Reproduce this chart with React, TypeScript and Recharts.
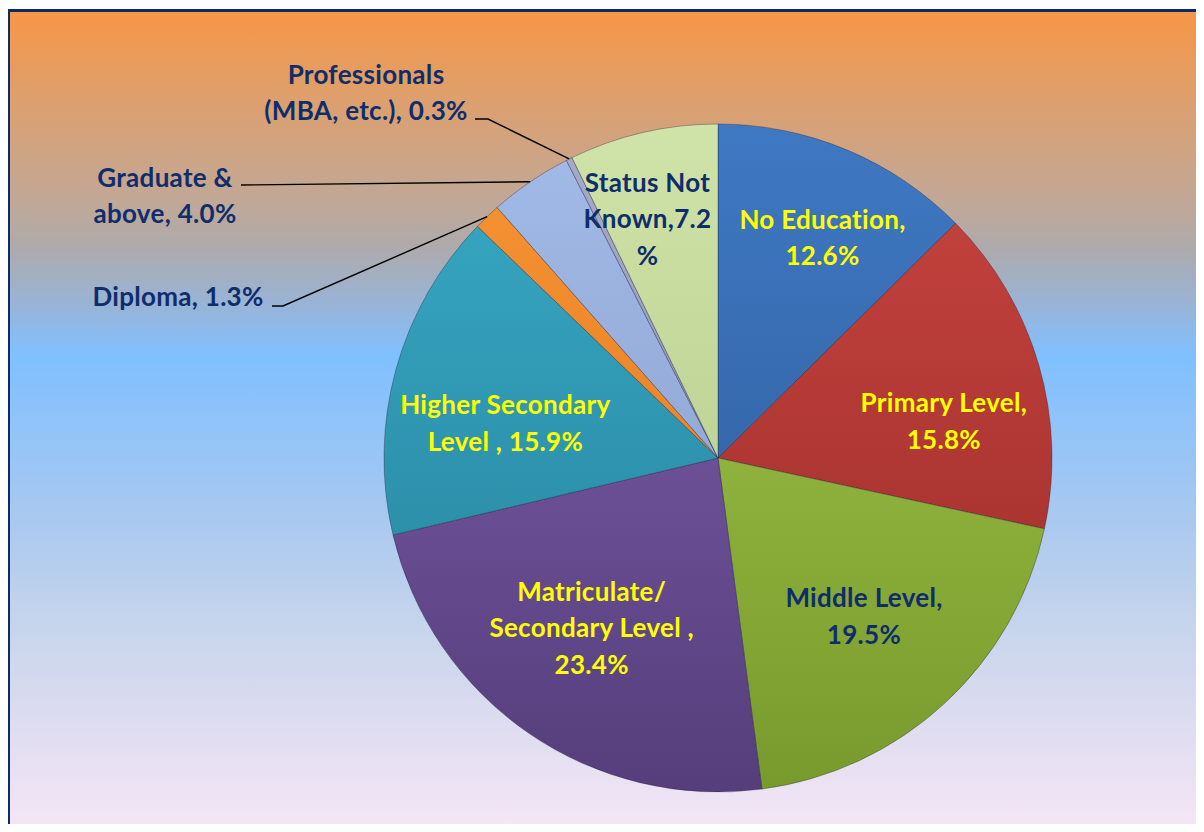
import React from 'react';
import { PieChart, Pie, Cell } from 'recharts';

// education levels, share of population in %
const categories = [
  'No Education',
  'Primary Level',
  'Middle Level',
  'Matriculate/ Secondary Level',
  'Higher Secondary Level',
  'Diploma',
  'Graduate & above',
  'Professionals (MBA, etc.)',
  'Status Not Known',
];
const shares = [12.6, 15.8, 19.5, 23.4, 15.9, 1.3, 4.0, 0.3, 7.2];

// label text as printed on the chart, {v} is the value
const labelLines = [
  ['No Education,', '{v}%'],
  ['Primary Level,', '{v}%'],
  ['Middle Level,', '{v}%'],
  ['Matriculate/', 'Secondary Level ,', '{v}%'],
  ['Higher Secondary', 'Level , {v}%'],
  ['Diploma, {v}%'],
  ['Graduate &', 'above, {v}%'],
  ['Professionals', '(MBA, etc.), {v}%'],
  ['Status Not', 'Known,{v}', '%'],
];

const data = categories.map((name, i) => ({ name, value: shares[i] }));

const sliceTop = ['#3f79c3', '#c8443f', '#a4ca4b', '#8262b2', '#38aac6', '#f79433', '#a3bbe8', '#a6aacb', '#d0e3a8'];
const sliceBottom = ['#2b5794', '#982b29', '#789a2d', '#553e7b', '#257f98', '#de761e', '#8599c8', '#8a8fb0', '#aec585'];

const NAVY = '#0f2d6b';
const YELLOW = '#ffff00';
const FONT = "Lato, 'Open Sans', sans-serif";
const FONT_SIZE = 26;
const LINE_H = 36.5;
const RAD = Math.PI / 180;

const CX = 718;
const CY = 458;
const R = 334;

const insideLabels: Record<string, { r: number; da: number; color: string }> = {
  'No Education': { r: 0.73, da: -2.7, color: YELLOW },
  'Primary Level': { r: 0.685, da: -7, color: YELLOW },
  'Middle Level': { r: 0.645, da: 0, color: NAVY },
  'Matriculate/ Secondary Level': { r: 0.635, da: -2, color: YELLOW },
  'Higher Secondary Level': { r: 0.645, da: 6, color: YELLOW },
  'Status Not Known': { r: 0.745, da: 3.5, color: NAVY },
};

const outsideLabels: Record<string, { x: number; y: number; start: number[]; elbow?: number[] }> = {
  'Diploma': { x: 178, y: 297, start: [272, 306], elbow: [283, 306] },
  'Graduate & above': { x: 165, y: 196, start: [241, 185] },
  'Professionals (MBA, etc.)': { x: 366, y: 93, start: [475, 119], elbow: [488, 119] },
};

const renderLabel = (props: any) => {
  const { cx, cy, midAngle, outerRadius, index } = props;
  const name = categories[index];
  const lines = labelLines[index].map((l) => l.replace('{v}', shares[index].toFixed(1)));
  const textProps = { textAnchor: 'middle' as const, fontFamily: FONT, fontWeight: 700, fontSize: FONT_SIZE, letterSpacing: 0.3 };
  const inCfg = insideLabels[name];
  if (inCfg) {
    const a = (midAngle + inCfg.da) * RAD;
    const x = cx + outerRadius * inCfg.r * Math.cos(a);
    const y = cy - outerRadius * inCfg.r * Math.sin(a);
    return (
      <text key={name} x={x} y={y} fill={inCfg.color} {...textProps}>
        {lines.map((l, i) => (
          <tspan key={i} x={x} y={y + (i - (lines.length - 1) / 2) * LINE_H + FONT_SIZE * 0.35}>
            {l}
          </tspan>
        ))}
      </text>
    );
  }
  const o = outsideLabels[name];
  const ex = cx + outerRadius * Math.cos(midAngle * RAD);
  const ey = cy - outerRadius * Math.sin(midAngle * RAD);
  const pts = [o.start, ...(o.elbow ? [o.elbow] : []), [ex, ey]].map((p) => p.join(',')).join(' ');
  return (
    <g key={name}>
      <polyline points={pts} fill="none" stroke="#000" strokeWidth={1.4} />
      <text x={o.x} y={o.y} fill={NAVY} {...textProps}>
        {lines.map((l, i) => (
          <tspan key={i} x={o.x} y={o.y + (i - (lines.length - 1) / 2) * LINE_H + FONT_SIZE * 0.35}>
            {l}
          </tspan>
        ))}
      </text>
    </g>
  );
};

export default function App() {
  return (
    <div style={{ position: 'relative', width: 1204, height: 832, margin: -8, overflow: 'hidden' }}>
      <div
        style={{
          position: 'absolute',
          left: 7,
          top: 9,
          width: 1220,
          height: 840,
          borderTop: '3px solid #0d2a6b',
          borderLeft: '3px solid #0d2a6b',
          background:
            'linear-gradient(180deg, #f79646 0%, #dca070 11%, #c0a898 23%, #aeaaac 28%, #98b4d8 35%, #80c0ff 41%, #a8c8f0 60%, #c4d4ec 72%, #dcdcf0 84%, #fae8f6 100%)',
        }}
      />
      <div style={{ position: 'absolute', left: 0, top: 0 }}>
        <PieChart width={1204} height={832} margin={{ top: 0, right: 0, bottom: 0, left: 0 }}>
          <defs>
            {sliceTop.map((c, i) => (
              <linearGradient key={i} id={`slice${i}`} gradientUnits="userSpaceOnUse" x1={0} y1={CY - R} x2={0} y2={CY + R}>
                <stop offset="0%" stopColor={c} />
                <stop offset="100%" stopColor={sliceBottom[i]} />
              </linearGradient>
            ))}
          </defs>
          <Pie
            data={data}
            dataKey="value"
            nameKey="name"
            cx={CX}
            cy={CY}
            outerRadius={R}
            startAngle={90}
            endAngle={-270}
            stroke="rgba(30,30,50,0.35)"
            strokeWidth={1}
            label={renderLabel}
            labelLine={false}
            isAnimationActive={false}
          >
            {data.map((d, i) => (
              <Cell key={d.name} fill={`url(#slice${i})`} />
            ))}
          </Pie>
        </PieChart>
      </div>
    </div>
  );
}
